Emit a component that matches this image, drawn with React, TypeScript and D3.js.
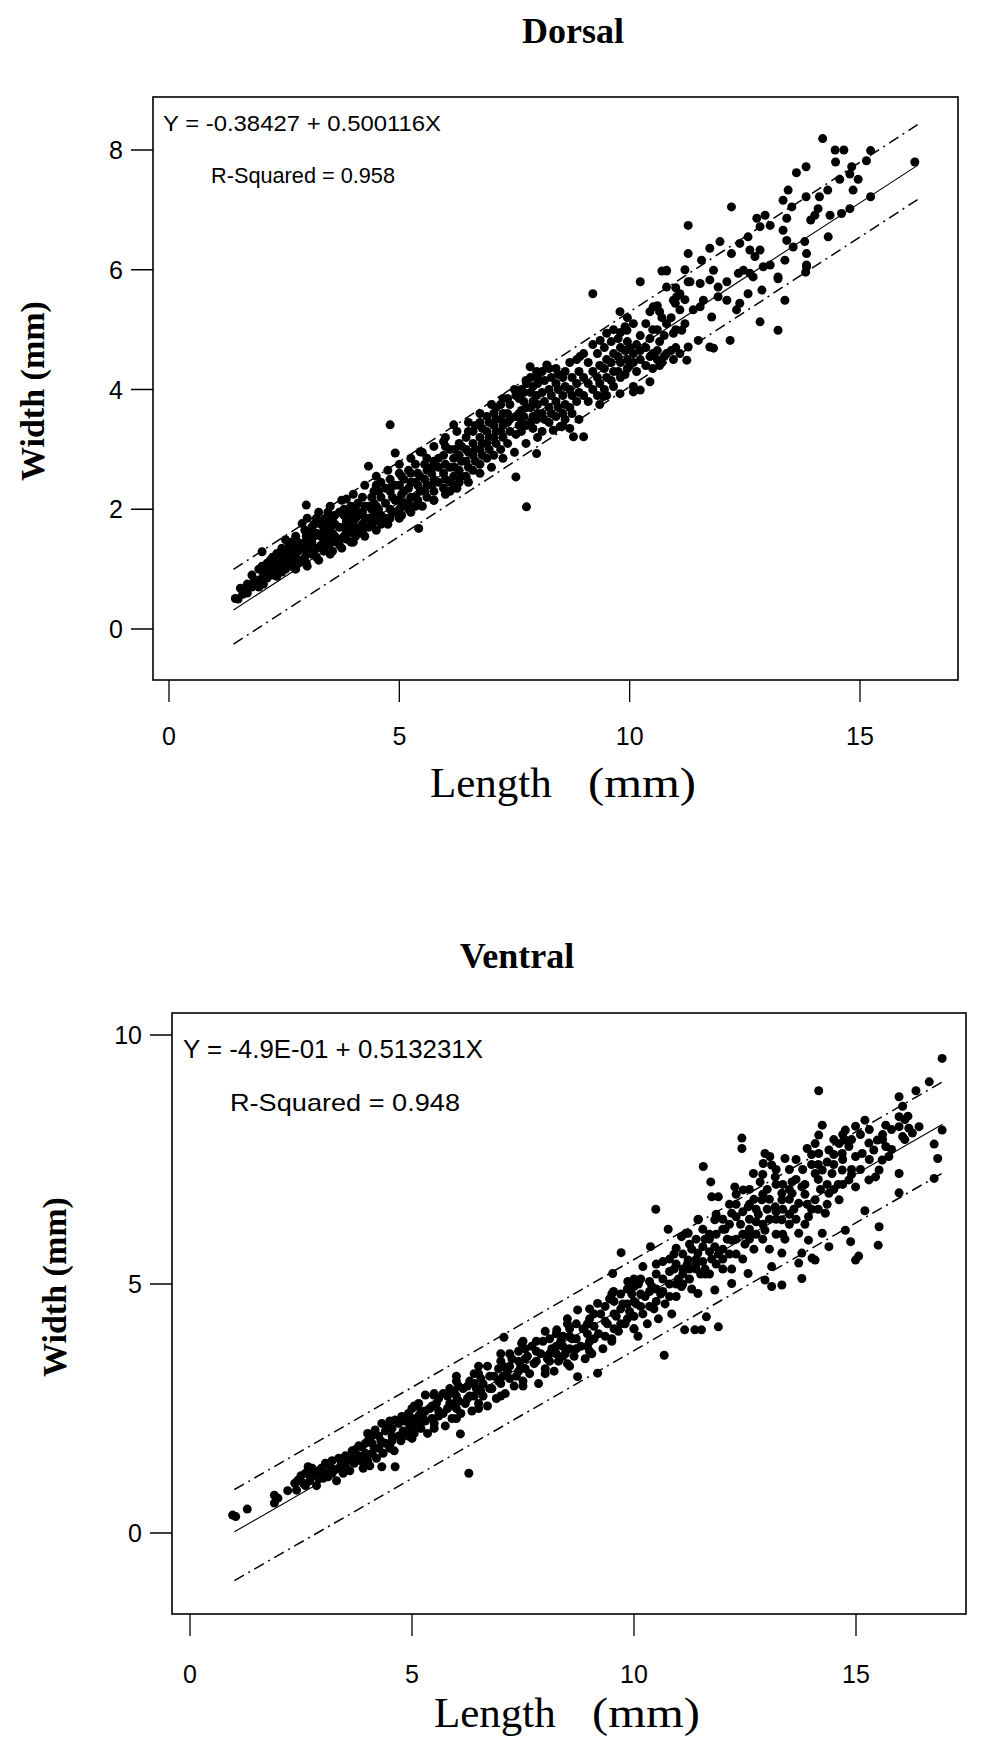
import React from "react";
import * as d3 from "d3";

// ---------- data ----------
const xTicks = [0, 5, 10, 15];
const dorsalYTicks = [0, 2, 4, 6, 8];
const ventralYTicks = [0, 5, 10];

const dorsalFit = { a: -0.38427, b: 0.500116, up: 0.68, lo: 0.57, x0: 1.4, x1: 16.25 };
const ventralFit = { a: -0.49, b: 0.513231, up: 0.85, lo: 0.98, x0: 1.0, x1: 16.95 };

const dorsalEquation = "Y = -0.38427 + 0.500116X";
const dorsalR2Label = "R-Squared = 0.958";
const ventralEquation = "Y = -4.9E-01 + 0.513231X";
const ventralR2Label = "R-Squared = 0.948";

const dorsalPoints: [number, number][] = [
  [1.44,0.51],[1.55,0.68],[1.5,0.5],[1.66,0.65],[1.8,0.7],[1.8,0.9],[1.95,0.82],[1.95,1.0],[1.95,0.7],[2.02,1.29],[2.02,1.05],
  [2.13,1.1],[2.13,0.85],[2.13,0.95],[2.25,0.9],[2.25,1.2],[2.25,1.05],[2.34,1.26],[2.34,1.0],[2.34,0.88],[2.45,1.1],[2.45,1.35],
  [2.45,0.95],[2.53,1.49],[2.53,1.2],[2.53,1.0],[2.65,1.3],[2.65,1.05],[2.65,1.45],[2.65,1.15],[2.75,1.2],[2.75,1.55],[2.75,1.0],
  [2.75,1.35],[2.89,1.76],[2.89,1.4],[2.89,1.15],[2.98,2.07],[2.98,1.3],[2.98,1.55],[2.98,1.1],[3.1,1.45],[3.1,1.7],[3.1,1.25],
  [3.1,1.6],[3.2,1.35],[3.2,1.6],[3.2,1.85],[3.2,1.2],[3.36,1.82],[3.36,1.5],[3.36,1.3],[3.36,1.65],[3.45,1.4],[3.45,1.75],
  [3.45,1.55],[3.45,1.95],[3.55,1.6],[3.55,1.3],[3.55,1.85],[3.55,1.45],[3.7,1.5],[3.7,1.95],[3.7,1.7],[3.7,1.4],[3.85,2.17],
  [3.85,1.6],[3.85,1.8],[3.85,1.5],[3.95,1.9],[3.95,1.65],[3.95,2.05],[3.95,1.45],[4.05,1.7],[4.05,2.0],[4.05,1.55],[4.05,1.85],
  [4.2,1.95],[4.2,1.75],[4.2,2.2],[4.2,1.6],[4.33,2.72],[4.33,1.85],[4.33,2.05],[4.33,1.7],[4.45,2.1],[4.45,1.8],[4.45,2.3],
  [4.45,1.95],[4.6,1.9],[4.6,2.2],[4.6,2.45],[4.6,1.75],[4.8,3.41],[4.8,2.0],[4.8,2.3],[4.8,1.85],[4.8,2.5],[4.91,2.94],
  [4.91,2.15],[4.91,1.95],[4.91,2.4],[5.05,2.25],[5.05,2.05],[5.05,2.55],[5.05,1.9],[5.2,2.35],[5.2,2.1],[5.2,2.65],[5.2,2.0],
  [5.35,2.45],[5.35,2.2],[5.35,2.75],[5.35,2.05],[5.45,2.96],[5.42,1.68],[5.45,2.3],[5.45,2.55],[5.6,2.4],[5.6,2.65],[5.6,2.2],
  [5.6,2.85],[5.75,2.5],[5.75,2.3],[5.75,2.8],[5.75,2.15],[5.96,3.13],[5.96,2.6],[5.96,2.35],[5.96,2.9],[6.1,2.7],[6.1,2.45],
  [6.1,3.0],[6.1,2.3],[6.18,3.41],[6.18,2.85],[6.18,2.55],[6.3,2.65],[6.3,3.1],[6.3,2.9],[6.3,2.45],[6.45,2.8],[6.45,3.2],
  [6.45,2.55],[6.45,3.0],[6.6,2.9],[6.6,3.3],[6.6,2.65],[6.6,3.1],[6.75,3.0],[6.75,3.45],[6.75,2.75],[6.75,3.2],[6.9,3.1],
  [6.9,3.55],[6.9,2.85],[6.9,3.3],[7.05,3.6],[7.05,3.2],[7.05,2.9],[7.05,3.4],[7.2,3.3],[7.2,3.75],[7.2,3.0],[7.2,3.5],
  [7.35,3.45],[7.35,3.85],[7.35,3.1],[7.35,3.6],[7.53,2.54],[7.53,3.55],[7.53,3.9],[7.53,3.25],[7.65,3.65],[7.65,4.0],[7.65,3.3],
  [7.65,3.45],[7.76,2.04],[7.76,3.7],[7.76,4.1],[7.76,3.4],[7.84,4.38],[7.9,3.8],[7.9,4.05],[7.9,3.35],[7.9,3.55],[7.98,2.93],
  [7.98,3.9],[7.98,4.3],[7.98,3.5],[8.1,4.3],[8.1,3.6],[8.1,3.95],[8.1,3.3],[8.2,4.41],[8.25,4.35],[8.25,3.7],[8.25,4.0],
  [8.25,3.45],[8.34,3.32],[8.4,4.1],[8.4,3.8],[8.4,3.55],[8.4,4.35],[8.49,3.38],[8.55,4.2],[8.55,3.9],[8.55,3.6],[8.55,3.4],
  [8.7,4.0],[8.7,3.7],[8.7,4.45],[8.7,3.35],[8.78,3.21],[8.85,4.1],[8.85,3.8],[8.85,4.5],[8.92,4.55],[9.0,3.21],[9.0,4.2],
  [9.0,3.9],[9.0,4.6],[9.2,5.6],[9.2,4.3],[9.2,4.0],[9.2,4.75],[9.35,4.4],[9.36,4.82],[9.35,4.1],[9.35,3.75],[9.43,3.88],
  [9.5,4.5],[9.5,4.94],[9.5,4.2],[9.5,3.9],[9.65,4.6],[9.65,4.3],[9.65,5.0],[9.65,4.05],[9.79,5.3],[9.79,3.93],[9.8,4.7],
  [9.8,4.45],[9.8,4.95],[9.8,4.2],[9.94,4.99],[9.95,4.5],[9.95,4.8],[9.95,4.35],[9.95,5.2],[10.08,3.96],[10.08,4.05],
  [10.08,4.6],[10.08,5.1],[10.08,4.45],[10.23,3.99],[10.23,5.8],[10.23,4.5],[10.23,4.9],[10.23,4.65],[10.44,4.13],[10.44,4.55],
  [10.44,5.3],[10.44,4.85],[10.51,5.38],[10.6,4.5],[10.6,5.0],[10.6,5.4],[10.6,4.65],[10.7,5.98],[10.7,4.45],[10.7,5.2],
  [10.8,5.98],[10.8,5.71],[10.8,4.6],[10.8,5.1],[10.8,5.99],[10.95,4.94],[10.95,5.49],[10.95,4.5],[10.99,5.44],[11.02,5.55],
  [11.09,5.33],[11.09,4.6],[11.09,5.6],[11.13,4.99],[11.24,4.49],[11.27,4.71],[11.27,6.27],[11.27,6.74],[11.27,5.8],[11.31,5.8],
  [11.38,5.33],[11.49,4.82],[11.53,5.77],[11.6,5.49],[11.53,5.38],[11.56,6.16],[11.74,6.36],[11.74,5.83],[11.74,4.71],
  [11.78,5.21],[11.82,5.99],[11.82,4.69],[11.92,5.71],[11.92,5.55],[11.96,6.47],[12.11,5.8],[12.11,5.49],[12.18,4.82],
  [12.21,7.05],[12.21,6.27],[12.32,5.33],[12.36,5.94],[12.39,6.44],[12.39,5.44],[12.47,5.99],[12.57,6.55],[12.57,5.6],
  [12.61,6.33],[12.61,5.94],[12.68,5.88],[12.72,6.22],[12.76,6.86],[12.83,6.72],[12.83,6.33],[12.83,5.13],[12.87,5.66],
  [12.9,6.05],[12.94,6.91],[13.05,6.74],[13.05,6.08],[13.22,5.88],[13.22,5.85],[13.22,4.99],[13.33,7.16],[13.33,6.66],
  [13.37,6.16],[13.37,5.49],[13.41,6.86],[13.41,6.49],[13.44,7.33],[13.52,7.05],[13.55,6.38],[13.62,7.62],[13.8,6.47],
  [13.82,5.96],[13.83,7.72],[13.83,7.22],[13.84,6.27],[13.84,6.08],[13.84,6.05],[13.93,6.83],[14.02,6.91],[14.09,7.02],
  [14.12,7.22],[14.19,8.19],[14.3,7.33],[14.31,6.55],[14.35,6.91],[14.46,8.0],[14.47,7.8],[14.56,7.51],[14.6,6.94],
  [14.65,8.0],[14.78,7.6],[14.78,7.02],[14.82,7.72],[14.85,7.33],[14.96,7.51],[15.14,7.82],[15.23,7.99],[15.23,7.22],
  [16.19,7.8]
];

// dense core of the dorsal cloud (values read between the columns above)
const dorsalCore: [number, number][] = [
  [1.6,0.58],[1.7,0.75],[1.7,0.6],[1.85,0.8],[2.05,0.9],[2.05,0.75],[2.2,1.0],[2.2,1.15],[2.3,0.95],[2.3,1.12],[2.4,1.2],
  [2.4,1.05],[2.5,1.1],[2.5,1.3],[2.6,1.2],[2.6,1.38],[2.7,1.1],[2.7,1.28],[2.7,1.45],[2.8,1.3],[2.8,1.45],[2.8,1.1],
  [2.95,1.2],[2.95,1.45],[2.95,1.65],[3.05,1.35],[3.05,1.5],[3.15,1.3],[3.15,1.55],[3.15,1.75],[3.3,1.4],[3.3,1.55],
  [3.3,1.75],[3.4,1.45],[3.4,1.65],[3.4,1.85],[3.5,1.5],[3.5,1.7],[3.6,1.55],[3.6,1.75],[3.6,1.9],[3.8,1.55],[3.8,1.7],
  [3.8,1.9],[3.8,2.0],[3.9,1.75],[3.9,1.95],[4.0,1.6],[4.0,1.8],[4.0,1.95],[4.1,1.65],[4.1,1.9],[4.1,2.1],[4.25,1.7],
  [4.25,1.85],[4.25,2.05],[4.4,1.75],[4.4,2.0],[4.4,2.2],[4.5,1.85],[4.5,2.05],[4.5,2.4],[4.55,2.0],[4.55,2.3],[4.7,1.85],
  [4.7,2.1],[4.7,2.35],[4.85,1.95],[4.85,2.2],[4.85,2.4],[5.0,2.0],[5.0,2.15],[5.0,2.4],[5.0,2.6],[5.1,2.1],[5.1,2.3],
  [5.1,2.5],[5.25,2.2],[5.25,2.45],[5.25,2.6],[5.4,2.15],[5.4,2.4],[5.4,2.6],[5.55,2.3],[5.55,2.5],[5.55,2.75],[5.7,2.4],
  [5.7,2.6],[5.7,2.7],[5.85,2.45],[5.85,2.7],[5.85,2.85],[6.0,2.5],[6.0,2.75],[6.0,3.05],[6.2,2.4],[6.2,2.7],[6.2,3.0],
  [6.35,2.55],[6.35,2.8],[6.35,3.05],[6.5,2.7],[6.5,2.95],[6.5,3.3],[6.65,2.8],[6.65,3.0],[6.65,3.4],[6.8,2.9],[6.8,3.1],
  [6.8,3.35],[6.95,3.0],[6.95,3.2],[6.95,3.45],[7.1,3.1],[7.1,3.3],[7.1,3.5],[7.1,3.7],[7.25,3.2],[7.25,3.4],[7.25,3.6],
  [7.4,3.3],[7.4,3.5],[7.4,3.75],[7.6,3.4],[7.6,3.6],[7.6,3.85],[7.7,3.55],[7.7,3.8],[7.7,3.95],[7.85,3.45],[7.85,3.7],
  [7.85,3.95],[7.85,4.2],[8.0,3.6],[8.0,3.75],[8.0,4.1],[8.15,3.5],[8.15,3.8],[8.15,4.15],[8.3,3.6],[8.3,3.9],[8.3,4.2],
  [8.45,3.7],[8.45,4.0],[8.45,4.25],[8.6,3.5],[8.6,3.75],[8.6,4.05],[8.6,4.3],[8.75,3.6],[8.75,3.9],[8.75,4.2],[8.9,3.5],
  [8.9,3.95],[8.9,4.3],[9.1,3.8],[9.1,4.1],[9.1,4.45],[9.3,3.9],[9.3,4.2],[9.3,4.6],[9.45,4.0],[9.45,4.35],[9.45,4.7],
  [9.6,4.15],[9.6,4.45],[9.6,4.8],[9.75,4.3],[9.75,4.55],[9.75,4.85],[9.9,4.25],[9.9,4.65],[9.9,5.05],[10.0,4.4],[10.0,4.7],
  [10.15,4.3],[10.15,4.75],[10.35,4.4],[10.35,4.7],[10.35,5.1],[10.5,4.35],[10.5,4.6],[10.5,5.0],[10.65,4.4],[10.65,4.8],
  [10.65,5.3],[10.75,4.55],[10.75,4.9],[10.9,4.65],[10.9,5.2],[11.0,4.7],[11.0,5.0],[11.0,5.7],[11.2,5.1],[11.2,5.5],[11.2,6.0],
  // upper and lower fringe of the dorsal band
  [3.0,1.85],[3.25,1.95],[3.5,2.05],[3.75,2.15],[4.0,2.25],[4.25,2.4],[4.5,2.55],[4.75,2.65],[5.0,2.75],[5.25,2.85],
  [5.5,2.95],[5.75,3.05],[6.0,3.2],[6.25,3.3],[6.5,3.45],[6.75,3.6],[7.0,3.75],[7.25,3.85],[7.5,4.0],[7.75,4.15],[8.0,4.2],
  [3.0,1.05],[3.25,1.15],[3.5,1.25],[3.75,1.35],[4.0,1.45],[4.25,1.55],[4.5,1.65],[4.75,1.75],[5.0,1.85],[5.25,1.95],
  [5.5,2.05],[5.75,2.15],[6.0,2.25],[6.25,2.35],[6.5,2.45],[6.75,2.6],[7.0,2.7],[7.25,2.85],[7.5,2.95],[7.75,3.1],[8.0,3.2]
];

const ventralPoints: [number, number][] = [
  [0.96,0.36],[1.03,0.33],[1.29,0.48],[1.9,0.76],[1.98,0.7],[1.9,0.6],[2.4,0.86],[2.43,1.06],[2.36,1.0],[2.55,1.0],[2.66,1.33],
  [2.7,1.05],[2.81,1.2],[2.85,0.95],[2.96,1.3],[3.0,1.1],[3.11,1.13],[3.15,1.35],[3.26,1.27],[3.3,1.05],[3.41,1.4],[3.45,1.2],
  [3.56,1.47],[3.6,1.25],[3.72,1.67],[3.7,1.4],[3.87,1.73],[3.85,1.45],[3.9,1.3],[4.02,1.87],[4.0,1.55],[4.05,1.35],[4.17,2.07],
  [4.15,1.7],[4.2,1.5],[4.32,2.2],[4.32,1.33],[4.3,1.85],[4.35,1.6],[4.47,2.13],[4.5,1.75],[4.55,1.95],[4.62,2.27],[4.62,1.33],
  [4.6,1.65],[4.77,2.34],[4.75,1.85],[4.8,2.05],[4.92,2.4],[4.9,1.95],[4.95,2.15],[5.05,2.55],[5.05,2.0],[5.1,2.25],[5.2,2.45],
  [5.2,2.1],[5.25,2.3],[5.3,2.77],[5.35,2.0],[5.4,2.5],[5.49,2.77],[5.5,2.2],[5.55,2.6],[5.6,2.35],[5.7,2.8],[5.7,2.4],
  [5.75,2.15],[5.85,2.6],[5.85,2.9],[5.9,2.3],[6.0,3.15],[6.0,2.5],[6.0,2.75],[6.09,1.99],[6.1,2.4],[6.15,2.9],[6.2,2.6],
  [6.28,1.2],[6.3,2.75],[6.3,3.05],[6.35,2.45],[6.45,2.9],[6.5,2.6],[6.5,3.2],[6.6,2.75],[6.6,3.0],[6.7,3.35],[6.7,2.55],
  [6.8,2.9],[6.85,3.15],[6.9,2.7],[7.0,3.45],[7.0,3.0],[7.07,3.93],[7.1,2.8],[7.15,3.25],[7.25,3.5],[7.3,2.95],[7.35,3.15],
  [7.47,3.81],[7.45,3.35],[7.5,3.05],[7.6,3.55],[7.65,3.2],[7.7,3.75],[7.75,3.4],[7.85,3.0],[7.9,3.6],[7.95,3.85],[8.0,3.3],
  [8.05,3.5],[8.15,3.7],[8.2,3.25],[8.26,4.08],[8.3,3.45],[8.35,3.85],[8.45,3.6],[8.5,4.2],[8.55,3.35],[8.6,3.9],[8.65,3.55],
  [8.73,4.48],[8.73,3.14],[8.8,3.75],[8.85,4.1],[8.9,3.5],[9.0,4.3],[9.0,3.85],[9.05,3.6],[9.18,4.61],[9.18,3.21],[9.2,4.0],
  [9.25,4.4],[9.3,3.7],[9.4,4.2],[9.45,4.7],[9.5,3.9],[9.52,5.21],[9.54,4.85],[9.6,4.35],[9.65,4.05],[9.71,5.63],[9.75,4.6],
  [9.8,4.2],[9.86,5.05],[9.9,4.45],[9.95,4.8],[10.0,4.1],[10.05,4.6],[10.1,5.0],[10.09,3.95],[10.2,5.35],[10.2,4.4],[10.25,4.75],
  [10.3,4.2],[10.37,5.75],[10.4,4.95],[10.45,4.5],[10.49,6.5],[10.5,5.2],[10.55,4.3],[10.6,4.8],[10.68,3.57],[10.65,5.45],
  [10.7,4.6],[10.77,6.1],[10.8,5.0],[10.85,4.4],[10.9,5.3],[10.9,5.6],[10.95,5.72],[10.95,4.75],[11.0,5.1],[11.07,5.95],
  [11.07,4.95],[11.1,5.3],[11.14,4.08],[11.17,6.02],[11.2,5.4],[11.22,5.48],[11.22,6.02],[11.3,4.9],[11.3,5.7],[11.37,4.08],
  [11.4,5.3],[11.44,6.29],[11.44,5.62],[11.44,4.81],[11.45,6.3],[11.52,4.08],[11.5,5.2],[11.56,7.36],[11.6,5.9],[11.6,5.3],
  [11.63,4.34],[11.6,5.2],[11.7,6.0],[11.73,7.05],[11.75,6.75],[11.75,5.5],[11.82,6.29],[11.82,5.75],[11.82,4.88],[11.9,6.75],
  [11.9,5.6],[11.9,4.14],[12.0,5.3],[12.0,6.3],[12.05,6.1],[12.1,5.9],[12.2,6.42],[12.2,5.88],[12.2,5.01],[12.2,5.3],
  [12.27,6.95],[12.3,5.6],[12.3,6.6],[12.4,6.2],[12.43,7.93],[12.43,7.72],[12.46,6.89],[12.5,5.8],[12.57,6.55],[12.57,6.02],
  [12.57,5.21],[12.6,6.3],[12.6,6.9],[12.69,7.22],[12.7,5.7],[12.7,6.7],[12.8,6.4],[12.84,7.05],[12.88,6.69],[12.9,5.9],
  [12.91,7.42],[12.95,7.62],[12.95,6.08],[12.95,5.08],[13.0,6.5],[13.0,6.9],[13.06,7.56],[13.1,7.39],[13.1,5.35],[13.1,4.95],
  [13.18,7.15],[13.18,6.55],[13.2,6.0],[13.2,7.0],[13.33,6.82],[13.33,6.69],[13.33,6.29],[13.33,5.62],[13.33,4.98],[13.4,7.52],
  [13.4,5.9],[13.5,6.2],[13.5,7.3],[13.56,7.05],[13.56,6.82],[13.6,6.5],[13.71,6.62],[13.71,6.02],[13.71,5.42],[13.78,6.95],
  [13.78,5.62],[13.78,5.11],[13.8,7.3],[13.9,7.72],[13.9,6.6],[13.93,6.35],[13.93,5.88],[14.01,5.52],[14.08,7.82],[14.08,7.22],
  [14.08,6.69],[14.08,5.48],[14.16,8.88],[14.16,7.99],[14.16,7.62],[14.2,6.9],[14.24,8.19],[14.24,7.29],[14.24,6.02],[14.31,6.42],
  [14.39,7.69],[14.39,6.82],[14.39,5.75],[14.46,7.22],[14.5,6.9],[14.6,7.0],[14.62,7.82],[14.62,6.69],[14.69,7.62],[14.69,7.29],
  [14.73,7.89],[14.76,8.09],[14.76,6.08],[14.84,7.76],[14.84,7.09],[14.88,5.85],[14.9,7.3],[14.99,8.17],[14.99,7.56],[14.99,6.95],
  [14.99,5.48],[15.06,5.56],[15.14,7.62],[15.2,8.29],[15.2,6.47],[15.29,7.83],[15.29,7.09],[15.4,7.69],[15.44,7.15],[15.48,7.89],
  [15.5,5.78],[15.52,7.29],[15.52,6.15],[15.59,7.49],[15.67,8.19],[15.67,7.76],[15.74,7.56],[15.97,8.76],[15.97,8.36],[15.97,8.16],
  [15.97,7.22],[15.97,6.83],[16.05,8.57],[16.05,7.96],[16.17,8.37],[16.19,8.13],[16.27,8.03],[16.35,8.88],[16.42,8.16],
  [16.65,9.06],[16.76,7.81],[16.76,7.12],[16.84,7.52],[16.94,9.53],[16.94,8.09]
];

// dense core of the ventral cloud
const ventralCore: [number, number][] = [
  [2.2,0.85],[2.5,1.15],[2.6,0.95],[2.6,1.2],[2.75,1.15],[2.75,1.3],[2.9,1.1],[2.9,1.25],[3.05,1.2],[3.05,1.4],[3.2,1.2],
  [3.2,1.45],[3.35,1.3],[3.35,1.5],[3.5,1.35],[3.5,1.55],[3.65,1.5],[3.65,1.65],[3.8,1.55],[3.8,1.75],[3.95,1.6],[3.95,1.8],
  [4.1,1.6],[4.1,1.8],[4.1,1.95],[4.25,1.7],[4.25,1.95],[4.4,1.8],[4.4,2.05],[4.55,1.85],[4.55,2.1],[4.7,1.95],[4.7,2.2],
  [4.85,2.0],[4.85,2.25],[5.0,2.1],[5.0,2.3],[5.15,2.15],[5.15,2.35],[5.15,2.6],[5.3,2.25],[5.3,2.45],[5.45,2.3],[5.45,2.55],
  [5.6,2.45],[5.6,2.7],[5.8,2.5],[5.8,2.75],[5.95,2.6],[5.95,2.85],[6.05,2.65],[6.05,2.95],[6.25,2.7],[6.25,2.95],[6.4,2.75],
  [6.4,3.0],[6.4,3.2],[6.55,2.85],[6.55,3.1],[6.75,2.9],[6.75,3.15],[6.95,3.05],[6.95,3.3],[7.05,3.15],[7.05,3.35],[7.2,3.1],
  [7.2,3.35],[7.2,3.6],[7.4,3.25],[7.4,3.45],[7.4,3.65],[7.55,3.3],[7.55,3.5],[7.55,3.7],[7.8,3.45],[7.8,3.65],[7.8,3.85],
  [8.1,3.45],[8.1,3.6],[8.1,3.9],[8.25,3.6],[8.25,3.75],[8.25,4.0],[8.4,3.55],[8.4,3.75],[8.4,3.95],[8.55,3.7],[8.55,3.95],
  [8.55,4.1],[8.7,3.7],[8.7,3.9],[8.7,4.2],[8.95,3.75],[8.95,4.0],[8.95,4.2],[9.1,3.9],[9.1,4.15],[9.1,4.4],[9.35,3.95],
  [9.35,4.25],[9.35,4.55],[9.55,4.1],[9.55,4.4],[9.55,4.65],[9.7,4.2],[9.7,4.5],[9.7,4.8],[9.85,4.3],[9.85,4.6],[9.85,4.9],
  [10.0,4.35],[10.0,4.65],[10.0,4.95],[10.15,4.55],[10.15,4.8],[10.15,5.1],[10.35,4.55],[10.35,4.85],[10.35,5.05],[10.5,4.65],
  [10.5,4.9],[10.5,5.4],[10.65,4.85],[10.65,5.1],[10.8,4.75],[10.8,5.25],[10.8,5.5],[10.95,5.0],[10.95,5.4],[11.1,5.0],
  [11.1,5.2],[11.1,5.6],[11.25,5.1],[11.25,5.8],[11.25,5.3],[11.4,5.4],[11.4,5.5],[11.4,5.9],[11.55,5.45],[11.55,5.75],
  [11.55,6.1],[11.7,5.2],[11.7,5.65],[11.7,5.9],[11.85,5.4],[11.85,6.0],[11.85,6.4],[12.0,5.5],[12.0,5.7],[12.0,6.1],
  [12.15,5.6],[12.15,6.2],[12.15,6.6],[12.3,5.9],[12.3,6.35],[12.3,6.8],[12.45,5.5],[12.45,6.0],[12.45,6.45],[12.6,5.9],
  [12.6,6.1],[12.6,6.6],[12.75,6.0],[12.75,6.25],[12.75,6.5],[12.9,6.2],[12.9,6.8],[12.9,7.2],[13.05,5.7],[13.05,6.3],
  [13.05,6.7],[13.2,6.3],[13.2,6.45],[13.2,7.3],[13.35,6.0],[13.35,6.5],[13.35,7.0],[13.5,6.4],[13.5,6.7],[13.5,6.9],
  [13.65,6.3],[13.65,7.1],[13.65,7.5],[13.85,6.2],[13.85,6.8],[13.85,7.0],[14.0,6.5],[14.0,7.4],[14.0,7.6],[14.15,6.5],
  [14.15,7.1],[14.15,7.4],[14.35,6.6],[14.35,7.0],[14.35,7.45],[14.5,7.4],[14.5,7.6],[14.5,7.9],[14.7,7.0],[14.7,7.5],
  [14.7,8.0],[14.9,7.2],[14.9,7.9],[15.1,7.3],[15.1,8.0],[15.3,7.5],[15.3,8.1],[15.6,7.9],[15.6,8.0],[15.8,7.7],[15.8,8.1],
  [16.1,7.9],[16.1,8.3],
  // upper and lower fringe of the ventral band
  [4.0,2.0],[4.5,2.25],[5.0,2.5],[5.5,2.8],[6.0,3.05],[6.5,3.35],[7.0,3.6],[7.5,3.85],[8.0,4.05],[8.5,4.3],[9.0,4.5],
  [9.5,4.8],[10.0,5.1],[4.0,1.45],[4.5,1.7],[5.0,1.9],[5.5,2.1],[6.0,2.3],[6.5,2.5],[7.0,2.75],[7.5,2.95],[8.0,3.2],
  [8.5,3.4],[9.0,3.65],[9.5,3.85],[10.0,4.1]
];

// ---------- layout ----------
type Panel = {
  title: string; titleX: number; titleY: number;
  frame: { l: number; r: number; t: number; b: number };
  xRange: [number, number]; yDomain: [number, number]; yRange: [number, number];
  yTicks: number[]; points: [number, number][];
  fit: typeof dorsalFit; eq: string; r2: string;
  eqPos: [number, number]; r2Pos: [number, number]; eqSize: number; eqLen: number; r2Size: number; r2Len: number;
  yLabel: [number, number]; xLabelY: number; lengthX: number; mmX: number; tickLabelY: number;
};

const panels: Panel[] = [
  {
    title: "Dorsal", titleX: 573, titleY: 43,
    frame: { l: 153, r: 958, t: 97, b: 680 },
    xRange: [169, 860], yDomain: [0, 8], yRange: [629, 150],
    yTicks: dorsalYTicks, points: [...dorsalPoints, ...dorsalCore], fit: dorsalFit,
    eq: dorsalEquation, r2: dorsalR2Label, eqPos: [163, 131], r2Pos: [211, 183],
    eqSize: 22, eqLen: 278, r2Size: 21.5, r2Len: 184,
    yLabel: [44, 391], xLabelY: 797, lengthX: 430, mmX: 588, tickLabelY: 745,
  },
  {
    title: "Ventral", titleX: 517, titleY: 968,
    frame: { l: 172, r: 966, t: 1013, b: 1614 },
    xRange: [190, 856], yDomain: [0, 10], yRange: [1533, 1035],
    yTicks: ventralYTicks, points: [...ventralPoints, ...ventralCore], fit: ventralFit,
    eq: ventralEquation, r2: ventralR2Label, eqPos: [183, 1058], r2Pos: [230, 1111],
    eqSize: 25, eqLen: 300, r2Size: 24, r2Len: 230,
    yLabel: [66, 1287], xLabelY: 1727, lengthX: 434, mmX: 592, tickLabelY: 1683,
  },
];

const serif = "'Liberation Serif', 'Times New Roman', serif";
const sans = "'Liberation Sans', Arial, sans-serif";

function PanelView({ p }: { p: Panel }) {
  const x = d3.scaleLinear().domain([0, 15]).range(p.xRange);
  const y = d3.scaleLinear().domain(p.yDomain).range(p.yRange);
  const f = p.fit;
  const ends = [f.x0, f.x1];
  const mk = (off: number) =>
    d3.line<number>().x((v) => x(v)).y((v) => y(f.a + f.b * v + off))(ends) || "";
  const { l, r, t, b } = p.frame;
  return (
    <g>
      <text x={p.titleX} y={p.titleY} textAnchor="middle" fontFamily={serif} fontWeight="bold" fontSize={36}>
        {p.title}
      </text>
      <rect x={l} y={t} width={r - l} height={b - t} fill="none" stroke="#000" strokeWidth={1.6} />
      {p.yTicks.map((v) => (
        <g key={"y" + v}>
          <line x1={l - 22} x2={l} y1={y(v)} y2={y(v)} stroke="#000" strokeWidth={1.5} />
          <text x={l - 30} y={y(v) + 9} textAnchor="end" fontFamily={sans} fontSize={25}>{v}</text>
        </g>
      ))}
      {xTicks.map((v) => (
        <g key={"x" + v}>
          <line x1={x(v)} x2={x(v)} y1={b} y2={b + 22} stroke="#000" strokeWidth={1.3} />
          <text x={x(v)} y={p.tickLabelY} textAnchor="middle" fontFamily={sans} fontSize={25}>{v}</text>
        </g>
      ))}
      <path d={mk(0)} stroke="#000" strokeWidth={1.1} fill="none" />
      <path d={mk(f.up)} stroke="#000" strokeWidth={1.5} fill="none" strokeDasharray="11,5,2,5" />
      <path d={mk(-f.lo)} stroke="#000" strokeWidth={1.5} fill="none" strokeDasharray="11,5,2,5" />
      {p.points.map((d, i) => (
        <circle key={i} cx={x(d[0])} cy={y(d[1])} r={4.5} fill="#000" />
      ))}
      <text x={p.eqPos[0]} y={p.eqPos[1]} fontFamily={sans} fontSize={p.eqSize}
        textLength={p.eqLen} lengthAdjust="spacingAndGlyphs">{p.eq}</text>
      <text x={p.r2Pos[0]} y={p.r2Pos[1]} fontFamily={sans} fontSize={p.r2Size}
        textLength={p.r2Len} lengthAdjust="spacingAndGlyphs">{p.r2}</text>
      <text transform={`translate(${p.yLabel[0]},${p.yLabel[1]}) rotate(-90)`} textAnchor="middle"
        fontFamily={serif} fontWeight="bold" fontSize={34}>Width (mm)</text>
      <text x={p.lengthX} y={p.xLabelY} fontFamily={serif} fontSize={43}>Length</text>
      <text x={p.mmX} y={p.xLabelY} fontFamily={serif} fontSize={43}
        textLength={108} lengthAdjust="spacingAndGlyphs">(mm)</text>
    </g>
  );
}

export default function App() {
  return (
    <svg width={984} height={1739} style={{ position: "absolute", left: 0, top: 0, background: "#fff" }}>
      <rect width={984} height={1739} fill="#fff" />
      {panels.map((p) => (
        <PanelView key={p.title} p={p} />
      ))}
    </svg>
  );
}
